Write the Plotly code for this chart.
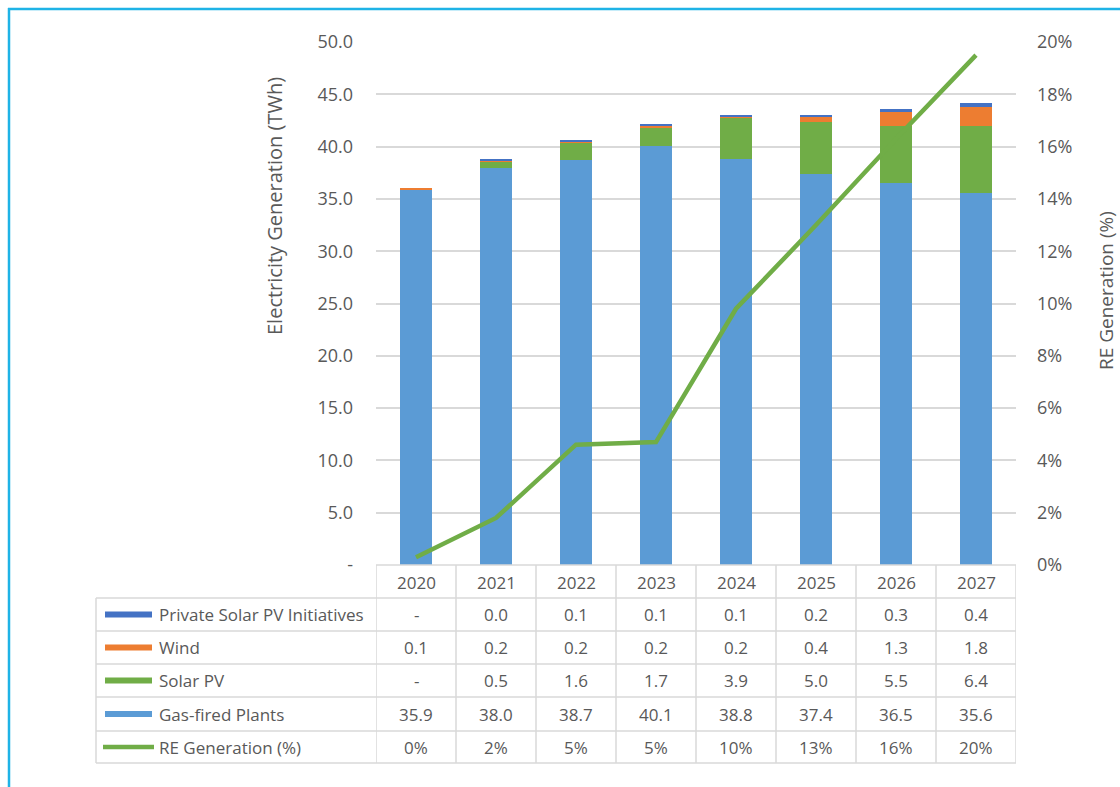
import plotly.graph_objects as go

years = ["2020", "2021", "2022", "2023", "2024", "2025", "2026", "2027"]
gas_fired = [35.9, 38.0, 38.7, 40.1, 38.8, 37.4, 36.5, 35.6]
solar_pv = [0.0, 0.5, 1.6, 1.7, 3.9, 5.0, 5.5, 6.4]
wind = [0.1, 0.2, 0.2, 0.2, 0.2, 0.4, 1.3, 1.8]
private_solar = [0.0, 0.02, 0.1, 0.1, 0.1, 0.2, 0.3, 0.4]
re_share = [0.3, 1.8, 4.6, 4.7, 9.8, 13.0, 16.3, 19.5]

left_ticks = [0, 5, 10, 15, 20, 25, 30, 35, 40, 45, 50]
left_ticktext = ["-"] + [f"{v:.1f}" for v in left_ticks[1:]]
right_ticks = [0, 2, 4, 6, 8, 10, 12, 14, 16, 18, 20]
right_ticktext = [f"{v}%" for v in right_ticks]

C_GAS = "#5B9BD5"
C_SOLAR = "#70AD47"
C_WIND = "#ED7D31"
C_PRIV = "#4472C4"
TXT = "#595959"
GRID = "#D9D9D9"
FONT = "Open Sans"

W, H = 1120, 787
L, R, T, B = 376, 1016, 42, 565


def px(x):
    return (x - L) / (R - L)


def py(y):
    return (B - y) / (B - T)


fig = go.Figure()
fig.add_bar(x=years, y=gas_fired, name="Gas-fired Plants", marker_color=C_GAS, width=0.4)
fig.add_bar(x=years, y=solar_pv, name="Solar PV", marker_color=C_SOLAR, width=0.4)
fig.add_bar(x=years, y=wind, name="Wind", marker_color=C_WIND, width=0.4)
fig.add_bar(x=years, y=private_solar, name="Private Solar PV Initiatives", marker_color=C_PRIV, width=0.4)
fig.add_scatter(x=years, y=re_share, name="RE Generation (%)", mode="lines",
                line=dict(color=C_SOLAR, width=4.5), yaxis="y2")

for tr in fig.data[:4]:
    tr.marker.line.width = 0

shapes = []
annotations = []
tfont = dict(family=FONT, size=17, color=TXT)
kfont = dict(family=FONT, size=18, color=TXT)

# table grid
row_edges = [598, 631, 664, 697, 731, 763]
gl = dict(color=GRID, width=1.5)
shapes.append(dict(type="line", xref="paper", yref="paper", x0=0, x1=1, y0=0, y1=0, line=gl))
for ye in row_edges:
    shapes.append(dict(type="line", xref="paper", yref="paper", x0=px(96), x1=1,
                       y0=py(ye), y1=py(ye), line=gl))
shapes.append(dict(type="line", xref="paper", yref="paper", x0=px(96), x1=px(96),
                   y0=py(598), y1=py(763), line=gl))
for i in range(len(years) + 1):
    shapes.append(dict(type="line", xref="x", yref="paper", x0=i - 0.5, x1=i - 0.5,
                       y0=0, y1=py(763), line=gl))

# header years
for i, yr in enumerate(years):
    annotations.append(dict(x=i, y=py(582), xref="x", yref="paper", text=yr,
                            xanchor="center", yanchor="middle",
                            showarrow=False, font=tfont))


def fmt(v):
    return "-" if v == 0 else f"{v:.1f}"


rows = [
    ("Private Solar PV Initiatives", C_PRIV, [fmt(v) for v in private_solar], "rect"),
    ("Wind", C_WIND, [fmt(v) for v in wind], "rect"),
    ("Solar PV", C_SOLAR, [fmt(v) for v in solar_pv], "rect"),
    ("Gas-fired Plants", C_GAS, [fmt(v) for v in gas_fired], "rect"),
    ("RE Generation (%)", C_SOLAR, [f"{v:.0f}%" for v in re_share], "line"),
]
for r, (label, col, vals, kind) in enumerate(rows):
    yc = (row_edges[r] + row_edges[r + 1]) / 2
    if kind == "rect":
        shapes.append(dict(type="rect", xref="paper", yref="paper", x0=px(105), x1=px(152),
                           y0=py(yc + 3), y1=py(yc - 3), fillcolor=col, line=dict(width=0)))
    else:
        shapes.append(dict(type="line", xref="paper", yref="paper", x0=px(103), x1=px(154),
                           y0=py(yc), y1=py(yc), line=dict(color=col, width=4.5)))
    annotations.append(dict(x=px(157), y=py(yc), xref="paper", yref="paper", text=label,
                            xanchor="left", yanchor="middle", showarrow=False, font=tfont))
    for i, v in enumerate(vals):
        annotations.append(dict(x=i, y=py(yc), xref="x", yref="paper", text=v,
                                xanchor="center", yanchor="middle",
                                showarrow=False, font=tfont))

# axis titles
annotations.append(dict(x=px(274), y=py(206), xref="paper", yref="paper",
                        text="Electricity Generation (TWh)", textangle=-90, showarrow=False,
                        xanchor="center", yanchor="middle",
                        font=dict(family=FONT, size=20, color=TXT)))
annotations.append(dict(x=px(1106), y=py(291), xref="paper", yref="paper",
                        text="RE Generation (%)", textangle=-90, showarrow=False,
                        xanchor="center", yanchor="middle",
                        font=dict(family=FONT, size=19, color=TXT)))

# frame border
bc = dict(color="#1FB3E6", width=2.5)
shapes.append(dict(type="line", xref="paper", yref="paper", x0=px(9), x1=px(9),
                   y0=py(8), y1=py(800), line=bc))
shapes.append(dict(type="line", xref="paper", yref="paper", x0=px(8), x1=px(1130),
                   y0=py(9), y1=py(9), line=bc))

fig.update_layout(
    width=W, height=H,
    margin=dict(l=L, r=W - R, t=T, b=H - B, autoexpand=False),
    barmode="stack",
    showlegend=False,
    plot_bgcolor="white", paper_bgcolor="white",
    font=tfont,
    xaxis=dict(type="category", range=[-0.5, 7.5], showticklabels=False,
               showgrid=False, zeroline=False, showline=False, fixedrange=True),
    yaxis=dict(range=[0, 50], tickvals=left_ticks, ticktext=left_ticktext,
               showgrid=True, gridcolor=GRID, gridwidth=1.5, zeroline=False,
               showline=False, ticks="", ticklabelstandoff=22, tickfont=kfont),
    yaxis2=dict(range=[0, 20], tickvals=right_ticks, ticktext=right_ticktext,
                overlaying="y", side="right", showgrid=False, zeroline=False,
                showline=False, ticks="", ticklabelstandoff=20, tickfont=kfont),
    shapes=shapes,
    annotations=annotations,
)

fig.write_html("out.html")
